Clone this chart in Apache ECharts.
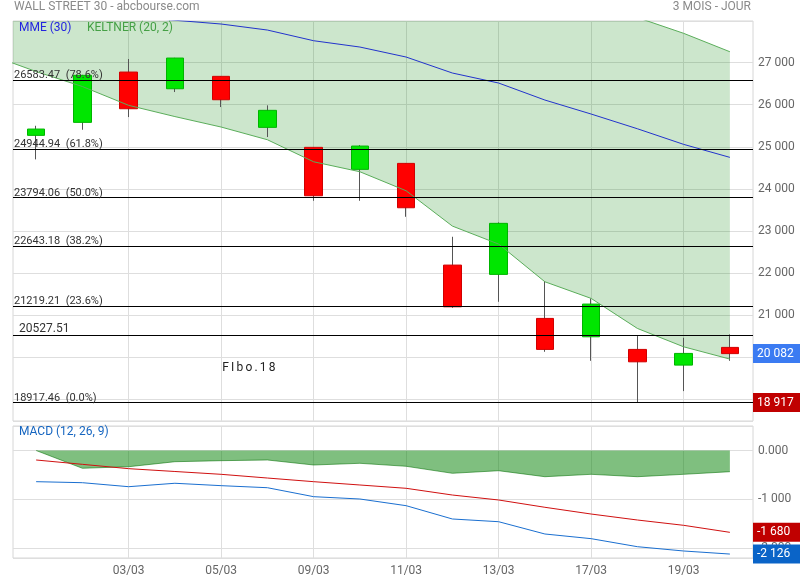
<!DOCTYPE html>
<html>
<head>
<meta charset="utf-8">
<script src="https://cdn.jsdelivr.net/npm/echarts@6/dist/echarts.min.js"></script>
<style>html,body{margin:0;padding:0;background:#fff}#c{width:800px;height:580px}</style>
</head>
<body>
<div id="c"></div>
<script>
// ---- data ----
const dates = ['28/02','02/03','03/03','04/03','05/03','06/03','09/03','10/03','11/03','12/03','13/03','16/03','17/03','18/03','19/03','20/03'];
const openP  = [25271, 25580, 26776, 26379, 26674, 25461, 24986, 24463, 24605, 22187, 21966, 20919, 20482, 20182, 19809, 20230];
const closeP = [25421, 26698, 25904, 27109, 26118, 25866, 23835, 25017, 23550, 21195, 23179, 20182, 21260, 19887, 20087, 20082];
const lowP   = [24700, 25404, 25706, 26301, 25944, 25231, 23716, 23716, 23335, 21171, 21314, 20125, 19911, 18917, 19191, 19911];
const highP  = [25499, 26710, 27086, 27115, 26680, 25985, 24990, 25041, 24610, 22860, 23202, 21807, 21395, 20499, 20458, 20539];

const mme = [28250, 28180, 28100, 28008, 27918, 27775, 27521, 27371, 27133, 26753, 26515, 26111, 25778, 25428, 25057, 24748];

// Keltner bands (position -1 is the session before the first visible one)
const keltnerPos = [-1, 0, 1, 2, 3, 4, 5, 6, 7, 8, 9, 10, 11, 12, 13, 14, 15];
const keltnerLow = [27188, 26788, 26432, 25985, 25718, 25469, 25167, 24643, 24406, 23954, 23114, 22686, 21790, 21395, 20681, 20244, 19952];
const keltnerUp  = [28900, 28950, 29050, 29150, 29200, 29250, 29300, 29250, 29150, 29050, 28950, 28800, 28650, 28450, 28072, 27697, 27259];

const fibLevels = [26583.47, 24944.94, 23794.06, 22643.18, 21219.21, 18917.46];
const fibPcts   = [78.6, 61.8, 50.0, 38.2, 23.6, 0.0];
const extraLevel = 20527.51;
const noteText = 'FIbo.18', noteDate = '05/03', noteValue = 19740;

const macd   = [-640, -661, -743, -673, -722, -764, -948, -996, -1133, -1406, -1462, -1714, -1810, -1975, -2063, -2126];
const signal = [-195, -284, -373, -431, -489, -565, -640, -708, -776, -914, -1016, -1166, -1304, -1427, -1536, -1680];
const hist   = [0, -365, -333, -230, -209, -195, -298, -263, -324, -468, -415, -538, -489, -538, -489, -435];

// ---- helpers ----
function fmtK(v) {
  const s = String(Math.round(Math.abs(v))).replace(/\B(?=(\d{3})+(?!\d))/g, ' ');
  return (v < 0 ? '-' : '') + s;
}
const last = dates.length - 1;
const candleAll  = dates.map((d, i) => [openP[i], closeP[i], lowP[i], highP[i]]);
const candleBody = dates.map((d, i) => [openP[i], closeP[i], Math.min(openP[i], closeP[i]), Math.max(openP[i], closeP[i])]);
const kLower = keltnerPos.map((x, i) => [x, keltnerLow[i]]);
const kUpper = keltnerPos.map((x, i) => [x, keltnerUp[i]]);
const kBand  = keltnerPos.map((x, i) => [x, keltnerLow[i], keltnerUp[i]]);
const showIdx = (i) => i > 0 && i % 2 === 0;

const gridLineColor = '#dedede';
const FONT = 'Roboto';

const badge = (value, bg) => ({
  yAxis: value,
  lineStyle: { color: 'rgba(0,0,0,0)', width: 1 },
  label: {
    show: true, position: 'end', distance: 0,
    formatter: fmtK(value),
    backgroundColor: bg, color: '#fff', fontSize: 12, fontFamily: FONT,
    padding: [2, 4, 2, 4], width: 39, lineHeight: 15, align: 'left'
  }
});

const fibMarks = fibLevels.map((v, i) => ({
  yAxis: v,
  label: { formatter: v.toFixed(2) + '  (' + fibPcts[i].toFixed(1) + '%)' }
}));
fibMarks.push({ yAxis: extraLevel, label: { formatter: extraLevel.toFixed(2), fontSize: 12, distance: [6, 0] } });
fibMarks.push(badge(closeP[last], '#3b7bf2'));
fibMarks.push(badge(fibLevels[fibLevels.length - 1], '#c00000'));

const noteRich = noteText.split('').map(ch => '{a|' + ch + '}').join('');

const chart = echarts.init(document.getElementById('c'), null, { renderer: 'canvas' });
chart.setOption({
  animation: false,
  backgroundColor: '#fff',
  textStyle: { fontFamily: FONT },
  grid: [
    { left: 13, width: 740, top: 21, height: 400, show: true, borderColor: '#d6d6d6', borderWidth: 1, containLabel: false, outerBoundsMode: 'none' },
    { left: 13, width: 740, top: 426, height: 132, show: true, borderColor: '#d6d6d6', borderWidth: 1, containLabel: false, outerBoundsMode: 'none' }
  ],
  xAxis: [
    { type: 'category', gridIndex: 0, data: dates, boundaryGap: true,
      axisLine: { show: false }, axisTick: { show: false }, axisLabel: { show: false },
      splitLine: { show: true, alignWithLabel: true, interval: showIdx, lineStyle: { color: gridLineColor } } },
    { type: 'value', gridIndex: 0, min: -0.5, max: 15.5, show: false, splitLine: { show: false } },
    { type: 'category', gridIndex: 1, data: dates, boundaryGap: true,
      axisLine: { show: false }, axisTick: { show: false },
      axisLabel: { interval: showIdx, color: '#666', fontSize: 12, margin: 7, fontFamily: FONT },
      splitLine: { show: true, alignWithLabel: true, interval: showIdx, lineStyle: { color: gridLineColor } } }
  ],
  yAxis: [
    { type: 'value', gridIndex: 0, position: 'right', min: 18480, max: 27990, minInterval: 1000, maxInterval: 1000,
      axisLine: { show: false }, axisTick: { show: false },
      axisLabel: { color: '#666', fontSize: 12, margin: 5, fontFamily: FONT, padding: [0, 0, 5, 0],
        formatter: v => (v % 1000 === 0 ? fmtK(v) : '') },
      splitLine: { show: true, lineStyle: { color: gridLineColor } } },
    { type: 'value', gridIndex: 1, position: 'right', min: -2207, max: 503, minInterval: 1000, maxInterval: 1000,
      axisLine: { show: false }, axisTick: { show: false },
      axisLabel: { color: '#666', fontSize: 12, margin: 5, fontFamily: FONT, padding: [0, 0, 5, 0],
        formatter: v => (v === 0 ? '0.000' : (v % 1000 === 0 ? fmtK(v) : '')) },
      splitLine: { show: true, lineStyle: { color: gridLineColor } } }
  ],
  graphic: [
    { type: 'text', left: 14, top: 1, style: { text: 'WALL STREET 30 - abcbourse.com', fill: '#8a8a8a', font: '12px Roboto' } },
    { type: 'text', right: 49, top: 1, style: { text: '3 MOIS - JOUR', fill: '#8a8a8a', font: '12px Roboto' } },
    { type: 'text', left: 19, top: 22, z: 100, style: { text: 'MME (30)', fill: '#2424e0', font: '12px Roboto' } },
    { type: 'text', left: 87, top: 22, z: 100, style: { text: 'KELTNER (20, 2)', fill: '#45a045', font: '12px Roboto' } },
    { type: 'text', left: 19, top: 426, z: 100, style: { text: 'MACD (12, 26, 9)', fill: '#1565c0', font: '12px Roboto' } }
  ],
  series: [
    { type: 'candlestick', name: 'wicks', xAxisIndex: 0, yAxisIndex: 0, data: candleAll, barWidth: 1,
      itemStyle: { color: '#555', color0: '#555', borderColor: '#555', borderColor0: '#555', borderWidth: 1 },
      markLine: {
        silent: true, symbol: ['none', 'none'], animation: false,
        lineStyle: { color: '#000', width: 1, type: 'solid' },
        label: { show: true, position: 'insideStartTop', fontSize: 11, color: '#333', distance: [1, -1], fontFamily: FONT },
        data: fibMarks
      }
    },
    { type: 'candlestick', name: 'bodies', xAxisIndex: 0, yAxisIndex: 0, data: candleBody, barWidth: 18,
      itemStyle: { color: '#00e600', color0: '#ff0000', borderColor: '#00b400', borderColor0: '#d00000', borderWidth: 1 },
      markPoint: {
        silent: true, symbol: 'circle', symbolSize: 0, itemStyle: { color: 'rgba(0,0,0,0)' },
        label: { show: true, position: 'right', distance: 0, color: '#222', formatter: noteRich,
          rich: { a: { fontSize: 12, fontFamily: FONT, color: '#222', padding: [0, 1.1, 0, 1.1] } } },
        data: [{ coord: [noteDate, noteValue] }]
      }
    },
    { type: 'custom', name: 'KELTNER band', xAxisIndex: 1, yAxisIndex: 0, data: kBand, clip: true, silent: true,
      encode: { x: 0, y: [1, 2] },
      renderItem: (params, api) => {
        if (params.dataIndex !== kBand.length - 1) return null;
        const cs = params.coordSys;
        const top = kBand.map(d => api.coord([d[0], d[2]]));
        const bot = kBand.map(d => api.coord([d[0], d[1]])).reverse();
        return {
          type: 'polygon',
          shape: { points: top.concat(bot) },
          style: { fill: 'rgba(0,128,0,0.2)', stroke: 'none' },
          clipPath: { type: 'rect', shape: { x: cs.x, y: cs.y, width: cs.width, height: cs.height } }
        };
      }
    },
    { type: 'line', name: 'MME (30)', xAxisIndex: 0, yAxisIndex: 0, data: mme, symbol: 'none',
      lineStyle: { color: '#2233cc', width: 1 }, itemStyle: { color: '#2233cc' } },
    { type: 'line', name: 'KELTNER (20, 2)', xAxisIndex: 1, yAxisIndex: 0, data: kLower, symbol: 'none',
      lineStyle: { color: '#5aad5a', width: 1 }, itemStyle: { color: '#5aad5a' } },
    { type: 'line', name: 'KELTNER up', xAxisIndex: 1, yAxisIndex: 0, data: kUpper, symbol: 'none',
      lineStyle: { color: '#5aad5a', width: 1 }, itemStyle: { color: '#5aad5a' } },
    { type: 'line', name: 'hist', xAxisIndex: 2, yAxisIndex: 1, data: hist, symbol: 'none',
      lineStyle: { color: 'rgba(0,110,0,0.55)', width: 1 }, itemStyle: { color: '#5a5' },
      areaStyle: { color: 'rgba(0,128,0,0.5)', opacity: 1 } },
    { type: 'line', name: 'signal', xAxisIndex: 2, yAxisIndex: 1, data: signal, symbol: 'none',
      lineStyle: { color: '#d01010', width: 1 }, itemStyle: { color: '#d01010' },
      markLine: { silent: true, symbol: ['none', 'none'], animation: false, data: [badge(signal[last], '#c00000')] } },
    { type: 'line', name: 'MACD', xAxisIndex: 2, yAxisIndex: 1, data: macd, symbol: 'none',
      lineStyle: { color: '#1a6fd0', width: 1 }, itemStyle: { color: '#1a6fd0' },
      markLine: { silent: true, symbol: ['none', 'none'], animation: false, data: [badge(macd[last], '#0a64c8')] } }
  ]
});
</script>
</body>
</html>
